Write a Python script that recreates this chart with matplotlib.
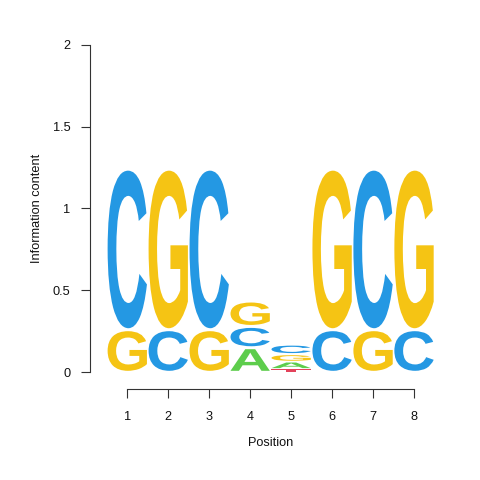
import matplotlib
matplotlib.use("Agg")
import matplotlib.pyplot as plt
from matplotlib.textpath import TextPath
from matplotlib.font_manager import FontProperties
from matplotlib.patches import PathPatch
from matplotlib.transforms import Affine2D

# sequence logo data, stacked bottom to top at each position
positions = [1, 2, 3, 4, 5, 6, 7, 8]
letters = [
    ["G", "C"],
    ["C", "G"],
    ["G", "C"],
    ["A", "C", "G"],
    ["T", "A", "G", "C"],
    ["C", "G"],
    ["G", "C"],
    ["C", "G"],
]
heights = [
    [0.26, 0.98],
    [0.26, 0.98],
    [0.26, 0.98],
    [0.15, 0.13, 0.155],
    [0.02, 0.045, 0.045, 0.06],
    [0.26, 0.98],
    [0.26, 0.98],
    [0.26, 0.98],
]

LETTER_COLORS = {"A": "#5dcd4c", "C": "#2498e3", "G": "#f5c414", "T": "#e3435b"}
AXIS_COLOR = "#333333"

letter_font = FontProperties(family="Liberation Sans", weight="bold")


# stretch a glyph so it fills the box
def draw_letter(ax, ch, x, y0, h, w, color):
    tp = TextPath((0, 0), ch, size=1, prop=letter_font)
    bb = tp.get_extents()
    t = Affine2D().translate(-bb.x0, -bb.y0).scale(w / bb.width, h / bb.height).translate(x - w / 2, y0)
    ax.add_patch(PathPatch(t.transform_path(tp), facecolor=color, edgecolor="none", lw=0))


fig = plt.figure(figsize=(4.8, 4.8), dpi=100)
fig.patch.set_facecolor("white")
ax = fig.add_axes([90 / 480, (480 - 389) / 480, 361.3 / 480, (389 - 31.6) / 480])
ax.set_xlim(0.09, 8.91)
ax.set_ylim(-0.102, 2.08)

for pos, lets, hs in zip(positions, letters, heights):
    base = 0.0
    for ch, h in zip(lets, hs):
        gap = min(0.009, h * 0.12)
        draw_letter(ax, ch, pos, base + gap, h - 2 * gap, 0.96, LETTER_COLORS[ch])
        base += h

for side in ["top", "right"]:
    ax.spines[side].set_visible(False)
ax.spines["left"].set_bounds(0, 2)
ax.spines["bottom"].set_bounds(1, 8)
ax.spines["left"].set_color(AXIS_COLOR)
ax.spines["bottom"].set_color(AXIS_COLOR)
ax.spines["left"].set_linewidth(0.8)
ax.spines["bottom"].set_linewidth(0.8)

ax.set_xticks(positions)
ax.set_xticklabels([str(p) for p in positions])
ax.set_yticks([0, 0.5, 1, 1.5, 2])
ax.set_yticklabels(["0", "0.5", "1", "1.5", "2"])
ax.tick_params(axis="both", direction="out", length=6.5, width=0.8, color=AXIS_COLOR,
               labelsize=9.2, labelcolor="#111111")
ax.tick_params(axis="y", pad=7.5)
ax.tick_params(axis="x", pad=9.2)
for lab in ax.get_xticklabels() + ax.get_yticklabels():
    lab.set_family("Liberation Sans")

fig.text(270.5 / 480, 1 - 443 / 480, "Position", ha="center", va="center",
         fontsize=9.2, family="Liberation Sans", color="#111111")
fig.text(37 / 480, 1 - 208.5 / 480, "Information content", ha="center", va="center",
         rotation=90, fontsize=9.2, family="Liberation Sans", color="#111111")

fig.savefig("out.png", dpi=100)
